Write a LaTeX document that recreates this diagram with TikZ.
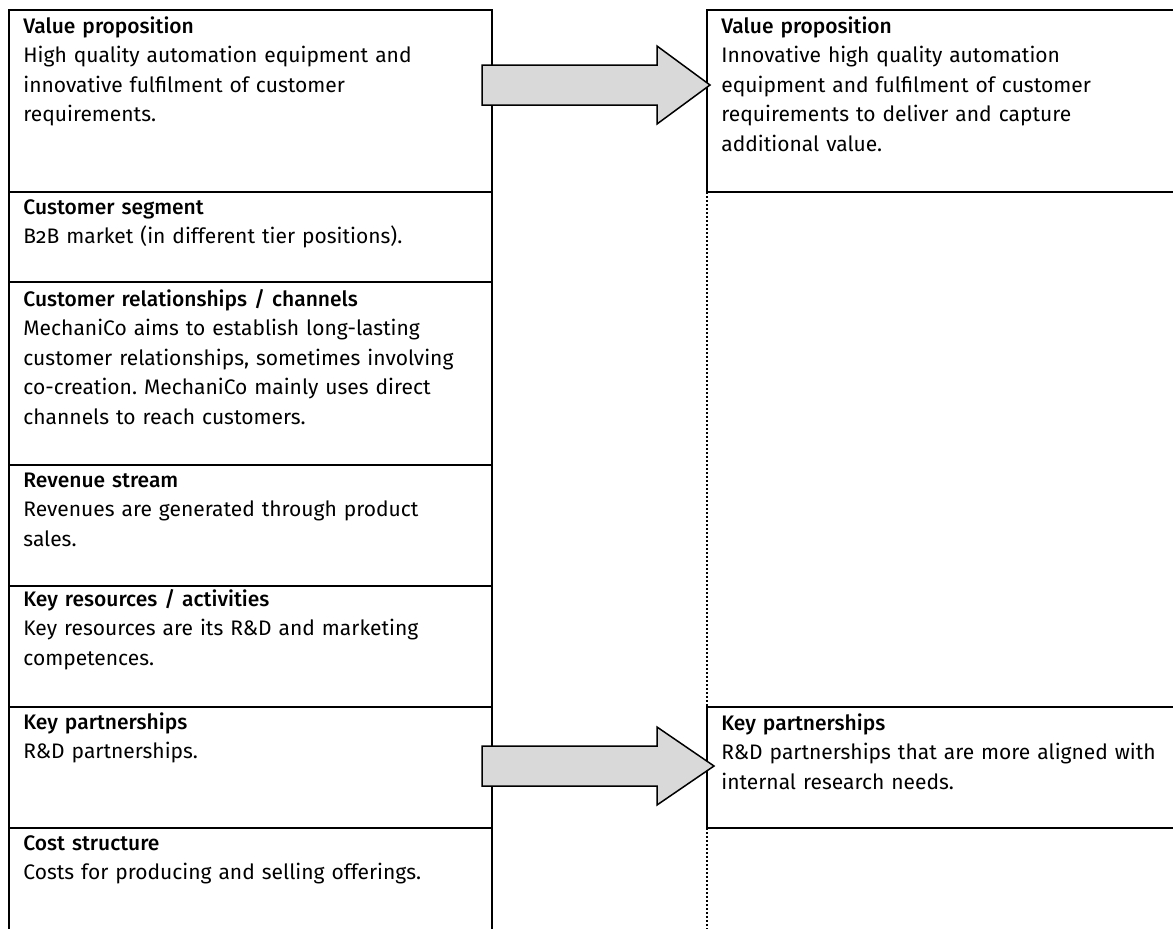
\documentclass[tikz,border=0pt]{standalone}
\usepackage{fontspec}
\setmainfont{Fira Sans}[Numbers=OldStyle, BoldFont={Fira Sans Medium}]
\frenchspacing
\usetikzlibrary{calc}
\tikzset{
  cell/.style={draw, line width=1pt, anchor=north west, inner sep=0pt, outer sep=0pt, minimum width=241.5pt},
  celltext/.style={anchor=base west, inner sep=0pt, text width=232pt, align=left, font=\fontsize{10.5}{14.8}\selectfont},
  bigarrow/.style={draw, line width=0.75pt, fill=black!15, line join=miter},
  gap/.style={line width=0.8pt, dash pattern=on 0.8pt off 1.2pt}
}
\begin{document}
\begin{tikzpicture}[x=0.5pt, y=-0.5pt]
	\useasboundingbox (0,0) rectangle (1173,928);
	\clip (0,0) rectangle (1173,928);
	
	% Current business model
	\node[cell, minimum height=91pt] (vp) at (9,10) {};
	\node[cell, minimum height=45pt] (cs) at (9,192) {};
	\node[cell, minimum height=91.5pt] (cr) at (9,282) {};
	\node[cell, minimum height=60.5pt] (rs) at (9,465) {};
	\node[cell, minimum height=60.5pt] (kr) at (9,586) {};
	\node[cell, minimum height=60.5pt] (kp) at (9,707) {};
	\node[cell, minimum height=70pt] (cst) at (9,828) {};
	
	\node[celltext] (vptext) at ([shift={(14,23)}]vp.north west) {\textbf{Value proposition}\\High quality automation equipment and\\innovative fulfilment of customer\\requirements.};
	\node[celltext] (cstext) at ([shift={(14,22)}]cs.north west) {\textbf{Customer segment}\\B2B market (in different tier positions).};
	\node[celltext] (crtext) at ([shift={(14,24)}]cr.north west) {\textbf{Customer relationships / channels}\\MechaniCo aims to establish long-lasting\\customer relationships, sometimes involving\\co-creation. MechaniCo mainly uses direct\\channels to reach customers.};
	\node[celltext] (rstext) at ([shift={(14,22)}]rs.north west) {\textbf{Revenue stream}\\Revenues are generated through product\\sales.};
	\node[celltext] (krtext) at ([shift={(14,20)}]kr.north west) {\textbf{Key resources / activities}\\Key resources are its R\&D and marketing\\competences.};
	\node[celltext] (kptext) at ([shift={(14,22)}]kp.north west) {\textbf{Key partnerships}\\R\&D partnerships.};
	\node[celltext] (csttext) at ([shift={(14,22)}]cst.north west) {\textbf{Cost structure}\\Costs for producing and selling offerings.};
	
	% Renewed business model
	\node[cell, minimum height=91pt, minimum width=245pt] (nvp) at (707,10) {};
	\node[cell, minimum height=60.5pt, minimum width=245pt] (nkp) at (707,707) {};
	
	\node[celltext] (nvptext) at ([shift={(14,23)}]nvp.north west) {\textbf{Value proposition}\\Innovative high quality automation\\equipment and fulfilment of customer\\requirements to deliver and capture\\additional value.};
	\node[celltext] (nkptext) at ([shift={(14,23)}]nkp.north west) {\textbf{Key partnerships}\\R\&D partnerships that are more aligned with\\internal research needs.};
	
	% Unchanged elements
	\draw[gap] (nvp.south west) -- (nkp.north west);
	\draw[gap] (nkp.south west) -- ++(0,130);
	
	% Arrows
	\coordinate (a1s) at (482,85);
	\coordinate (a1t) at ($(nvp.west |- a1s)+(3,0)$);
	\coordinate (a2s) at (482,766);
	\coordinate (a2t) at ($(nkp.west |- a2s)+(7,0)$);
	\draw[bigarrow] (a1s) ++(0,-20) -- ++(175,0) -- ++(0,-19) -- (a1t) -- ++(-53,39) -- ++(0,-19) -- ++(-175,0) -- cycle;
	\draw[bigarrow] (a2s) ++(0,-20) -- ++(175,0) -- ++(0,-19) -- (a2t) -- ++(-57,39) -- ++(0,-19) -- ++(-175,0) -- cycle;
\end{tikzpicture}
\end{document}
